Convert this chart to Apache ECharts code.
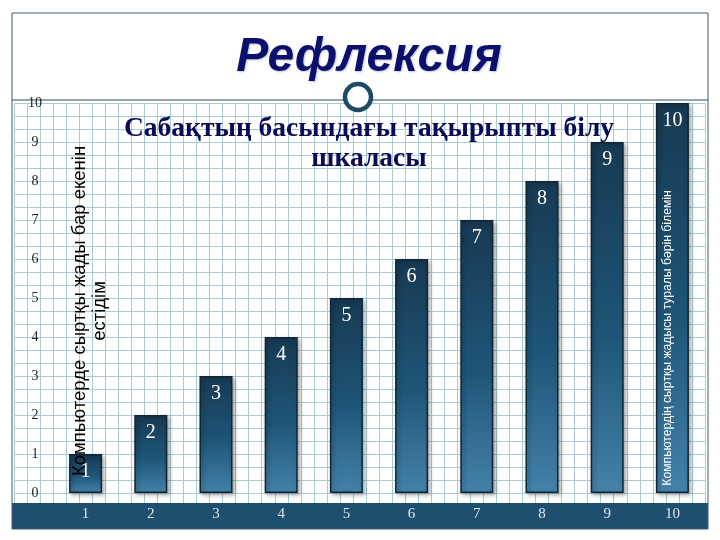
<!DOCTYPE html>
<html>
<head>
<meta charset="utf-8">
<script src="https://cdn.jsdelivr.net/npm/echarts@6/dist/echarts.min.js"></script>
<style>html,body{margin:0;padding:0;background:#fff;}#main{width:720px;height:540px;}</style>
</head>
<body>
<div id="main"></div>
<script>
const categories = ['1','2','3','4','5','6','7','8','9','10'];
const values = [1,2,3,4,5,6,7,8,9,10];
const yTicks = [0,1,2,3,4,5,6,7,8,9,10];
const titleText = 'Рефлексия';
const subtitleLines = ['Сабақтың басындағы тақырыпты білу', 'шкаласы'];
const leftNoteLines = ['Компьютерде сыртқы жады бар екенін', 'естідім'];
const rightNote = 'Компьютердің сыртқы жадысы туралы бәрін білемін';

const chart = echarts.init(document.getElementById('main'), null, {renderer:'canvas'});
const paper = '#a7ccd4';
const option = {
  backgroundColor: '#ffffff',
  animation: false,
  grid: [
    {left: 53, right: 15, top: 103, bottom: 47},
    {left: 14, right: 15, top: 103, bottom: 34}
  ],
  xAxis: [
    {type: 'category', gridIndex: 0, data: categories, z: 5,
     axisLine: {show: false}, axisTick: {show: false},
     axisLabel: {color: '#dde7ef', fontFamily: 'Liberation Serif', fontSize: 15, margin: 14}},
    {type: 'value', gridIndex: 1, min: 0, max: 53, interval: 1, z: 0,
     axisLine: {show: false}, axisTick: {show: false}, axisLabel: {show: false},
     splitLine: {show: true, lineStyle: {color: paper, width: 1}}}
  ],
  yAxis: [
    {type: 'value', gridIndex: 0, min: yTicks[0], max: yTicks[yTicks.length-1], interval: 1, z: 5,
     axisLine: {show: false}, axisTick: {show: false}, splitLine: {show: false},
     axisLabel: {color: '#222', fontFamily: 'Liberation Serif', fontSize: 14, margin: 18, align: 'center'}},
    {type: 'value', gridIndex: 1, min: 0, max: 31, interval: 1, z: 0,
     axisLine: {show: false}, axisTick: {show: false}, axisLabel: {show: false},
     splitLine: {show: true, lineStyle: {color: paper, width: 1}}}
  ],
  series: [{
    type: 'bar', xAxisIndex: 0, yAxisIndex: 0, data: values, barWidth: 33, z: 3,
    itemStyle: {
      color: new echarts.graphic.LinearGradient(0, 0, 0, 1, [
        {offset: 0, color: '#173a53'},
        {offset: 0.55, color: '#1e5577'},
        {offset: 1, color: '#4482a9'}
      ]),
      borderColor: '#0e2636', borderWidth: 1.5,
      shadowBlur: 4, shadowOffsetX: 2, shadowOffsetY: 2, shadowColor: 'rgba(0,0,0,0.35)'
    },
    label: {show: true, position: 'insideTop', distance: 8, color: '#ffffff',
            fontFamily: 'Liberation Serif', fontSize: 20}
  }],
  graphic: [
    {type: 'rect', z: 1, shape: {x: 12, y: 503, width: 696, height: 26}, style: {fill: '#1e4f6f'}},
    {type: 'rect', z: 1, shape: {x: 12, y: 13, width: 696, height: 516}, style: {fill: 'none', stroke: '#3e5c6c', lineWidth: 1}},
    {type: 'rect', z: 1, shape: {x: 13, y: 14, width: 694, height: 86}, style: {fill: '#ffffff'}},
    {type: 'line', z: 2, shape: {x1: 12, y1: 100, x2: 344, y2: 100}, style: {stroke: '#2f4f60', lineWidth: 1.2}},
    {type: 'line', z: 2, shape: {x1: 372, y1: 100, x2: 708, y2: 100}, style: {stroke: '#2f4f60', lineWidth: 1.2}},
    {type: 'circle', z: 2, shape: {cx: 358, cy: 97, r: 13}, style: {fill: '#ffffff', stroke: '#1d4b66', lineWidth: 4.5}},
    {type: 'text', z: 10, x: 369, y: 58,
     style: {text: titleText, font: 'italic bold 48px "Liberation Sans"', fill: '#0c0f6c',
             textAlign: 'center', textVerticalAlign: 'middle',
             textShadowColor: 'rgba(120,140,180,0.5)', textShadowBlur: 2, textShadowOffsetX: 1, textShadowOffsetY: 1}},
    {type: 'text', z: 10, x: 369, y: 144,
     style: {text: subtitleLines.join('\n'), font: 'bold 27.5px "Liberation Serif"', fill: '#0b0b55',
             textAlign: 'center', textVerticalAlign: 'middle', lineHeight: 30}},
    {type: 'text', z: 10, x: 90, y: 311, rotation: Math.PI / 2,
     style: {text: leftNoteLines.join('\n'), font: '18.5px "Liberation Sans"', fill: '#000000',
             textAlign: 'center', textVerticalAlign: 'middle', lineHeight: 20}},
    {type: 'text', z: 10, x: 668, y: 338, rotation: Math.PI / 2,
     style: {text: rightNote, font: '12.2px "Liberation Sans"', fill: '#ffffff',
             textAlign: 'center', textVerticalAlign: 'middle'}}
  ]
};
chart.setOption(option);
</script>
</body>
</html>
